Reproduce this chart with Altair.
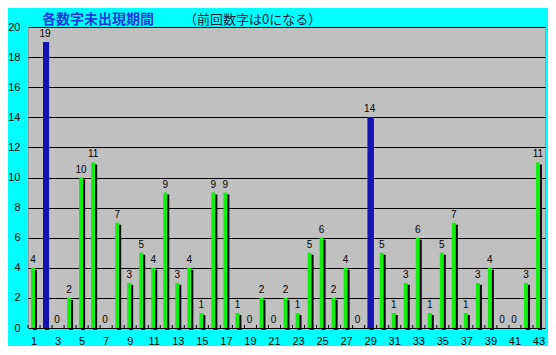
import altair as alt
import pandas as pd

numbers = list(range(1, 44))
values = [4, 19, 0, 2, 10, 11, 0, 7, 3, 5, 4, 9, 3, 4, 1, 9, 9, 1, 0, 2, 0,
          2, 1, 5, 6, 2, 4, 0, 14, 5, 1, 3, 6, 1, 5, 7, 1, 3, 4, 0, 0, 3, 11]
highlight = [2, 29]
x_labels = list(range(1, 44, 2))
y_ticks = list(range(0, 21, 2))
title_main = "各数字未出現期間"
title_note = "（前回数字は0になる）"

df = pd.DataFrame({"n": numbers, "v": values})
df["hl"] = df["n"].isin(highlight).map({True: "blue", False: "green"})

W, H = 517, 301
font = "Liberation Sans"

base = alt.Chart(df)
x = alt.X("n:O", sort=numbers,
          scale=alt.Scale(paddingInner=0, paddingOuter=0),
          axis=alt.Axis(values=x_labels, labelAngle=0, title=None, ticks=False,
                        domain=False, labelPadding=7, labelFontSize=11,
                        labelFont=font, labelColor="#000000"))
y = alt.Y("v:Q", scale=alt.Scale(domain=[0, 20], nice=False),
          axis=alt.Axis(values=y_ticks, title=None, ticks=False, domain=False,
                        grid=True, gridColor="#000000", gridWidth=1, gridOpacity=1,
                        labelPadding=8, labelFontSize=11, labelFont=font,
                        labelColor="#000000"))

shadow = base.mark_bar(size=4, xOffset=1, yOffset=2, color="#000000").encode(x=x, y=y)
bars = base.mark_bar(size=4, xOffset=-1).encode(
    x=x, y=y,
    color=alt.Color("hl:N", scale=alt.Scale(domain=["green", "blue"],
                                            range=["#11EE11", "#1414B4"]),
                    legend=None))
blue_fix = base.transform_filter(alt.datum.hl == "blue").mark_bar(
    size=6, xOffset=0, color="#1414B4").encode(x=x, y=y)
labels = base.mark_text(dy=-8, xOffset=-1, fontSize=10, font=font, color="#000000").encode(
    x=x, y=y, text="v:Q")
ticks = base.mark_rule(color="#000000", xOffset=-6).encode(
    x=x, y=alt.value(H), y2=alt.value(H - 3))

t1 = alt.Chart(pd.DataFrame({"t": [title_main]})).mark_text(
    align="left", baseline="middle", fontSize=14, fontWeight="bold",
    font="Noto Sans CJK JP", color="#1A3ADC").encode(
    x=alt.value(14), y=alt.value(-7), text="t:N")
t2 = alt.Chart(pd.DataFrame({"t": [title_note]})).mark_text(
    align="left", baseline="middle", fontSize=13,
    font="Noto Sans CJK JP", color="#202040").encode(
    x=alt.value(156), y=alt.value(-7), text="t:N")

chart = alt.layer(shadow, bars, blue_fix, ticks, labels, t1, t2).properties(
    width=W, height=H,
    background="#00FFFF",
    padding={"left": 20, "top": 19, "right": 3, "bottom": 18},
    autosize=alt.AutoSizeParams(type="none"),
).configure_view(fill="#C0C0C0", stroke="#9A9A9A", strokeWidth=1)

chart.save("out.html", embed_options={"renderer": "svg", "actions": False})
